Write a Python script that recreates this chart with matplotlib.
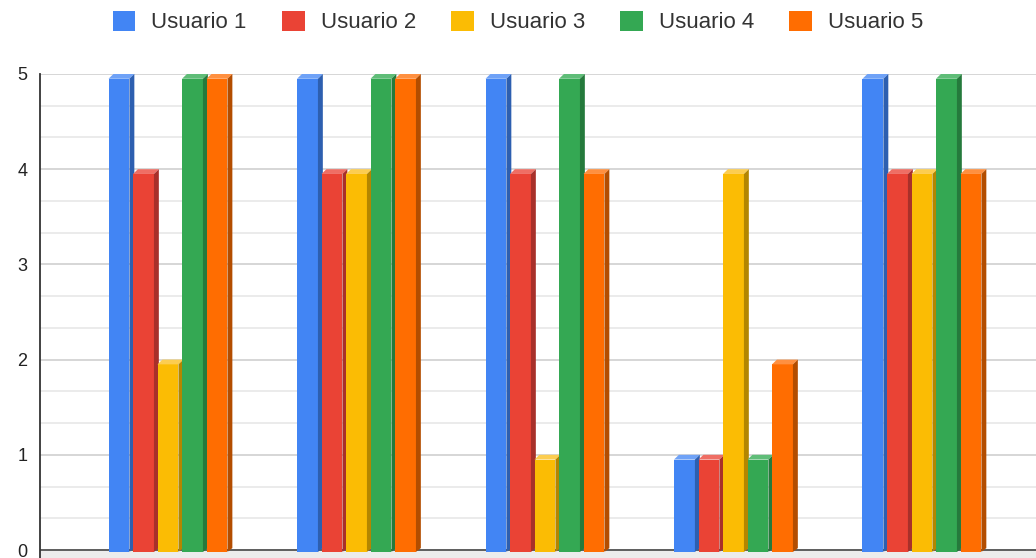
import matplotlib.pyplot as plt
from matplotlib.patches import Polygon
import numpy as np

plt.rcParams['font.family'] = ['Liberation Sans', 'DejaVu Sans']

users = ["Usuario 1", "Usuario 2", "Usuario 3", "Usuario 4", "Usuario 5"]
usuario_1 = [5, 5, 5, 1, 5]
usuario_2 = [4, 4, 4, 1, 4]
usuario_3 = [2, 4, 1, 4, 4]
usuario_4 = [5, 5, 5, 1, 5]
usuario_5 = [5, 5, 4, 2, 4]
series = [usuario_1, usuario_2, usuario_3, usuario_4, usuario_5]

front = ["#4285F4", "#EA4335", "#FBBC04", "#34A853", "#FF6D01"]
side = ["#2d5fb0", "#a8302a", "#b38600", "#257a3c", "#b34d00"]
top = ["#6fa2f7", "#ef6e64", "#fccd50", "#5fbd78", "#ff9040"]

fig = plt.figure(figsize=(10.36, 5.58), dpi=100)
ax = fig.add_axes([40 / 1036, 0, 1 - 40 / 1036, 484 / 558])

x = np.arange(5)
w = 0.111
pitch = 0.13
dx = 0.026
dy = 0.05

ax.axhspan(-0.084, 0, color="#ececec", zorder=0)
for v in np.arange(0, 5.01, 1 / 3):
    major = abs(v - round(v)) < 1e-6
    ax.axhline(v, color="#cfcfcf" if major else "#e8e8e8", lw=1.2, zorder=1)
ax.axhline(0, color="#555555", lw=1.3, zorder=1)

for k, vals in enumerate(series):
    xs = x + (k - 2) * pitch
    ax.bar(xs, np.array(vals) - dy + 0.02, bottom=-0.02, width=w,
           color=front[k], zorder=3, label=users[k])
    for xi, v in zip(xs, vals):
        l, r = xi - w / 2, xi + w / 2
        ax.add_patch(Polygon([(l, v - dy), (r, v - dy), (r + dx, v), (l + dx, v)],
                             closed=True, color=top[k], zorder=3, lw=0))
        ax.add_patch(Polygon([(r, -0.02), (r + dx, 0.02), (r + dx, v), (r, v - dy)],
                             closed=True, color=side[k], zorder=3, lw=0))

ax.set_xlim(-0.679, 4.605)
ax.set_ylim(-0.084, 5)
ax.set_xticks([])
ax.set_yticks(range(6))
ax.tick_params(axis="y", length=0, labelsize=13, colors="#222222", pad=9)
for s in ["top", "right", "bottom"]:
    ax.spines[s].set_visible(False)
ax.spines["left"].set_color("#333333")
ax.spines["left"].set_linewidth(1.3)

handles, labels = ax.get_legend_handles_labels()
fig.legend(handles, labels, loc="center", bbox_to_anchor=(0.5, 1 - 22 / 558),
           ncol=5, frameon=False, fontsize=16, handlelength=1.0, handleheight=1.0,
           columnspacing=1.6, handletextpad=0.72, labelcolor="#333333")

fig.savefig("out.png", dpi=100)
